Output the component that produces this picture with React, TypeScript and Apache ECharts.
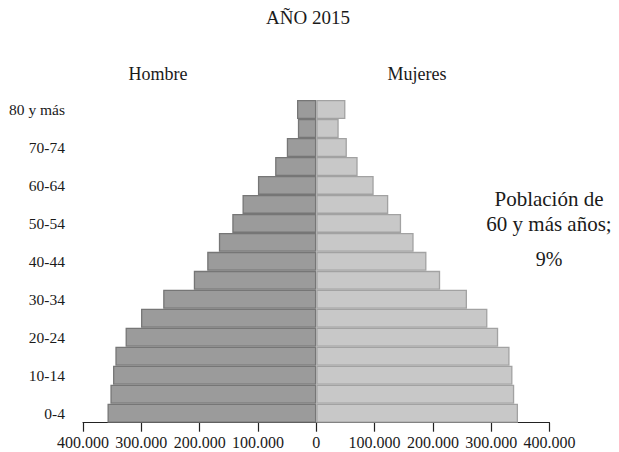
import React, { useEffect, useRef } from "react";
import * as echarts from "echarts";

const categories = [
  "0-4", "5-9", "10-14", "15-19", "20-24", "25-29", "30-34", "35-39", "40-44",
  "45-49", "50-54", "55-59", "60-64", "65-69", "70-74", "75-79", "80 y más",
];
const hombres = [
  358000, 353000, 348500, 344500, 327000, 300500, 262500, 210000, 187000,
  167000, 144000, 126500, 100000, 70500, 50500, 31500, 33000,
];
const mujeres = [
  346000, 339500, 336500, 331500, 312000, 293500, 258500, 212500, 189000,
  167000, 145500, 123500, 98500, 71000, 52500, 38500, 50000,
];
const xTicks = [-400000, -300000, -200000, -100000, 0, 100000, 200000, 300000, 400000];
const title = "AÑO 2015";
const leftLabel = "Hombre";
const rightLabel = "Mujeres";
const noteLines = ["Población de", "60 y más años;", "9%"];

const FONT = "'Liberation Serif', 'Times New Roman', serif";

function fmt(v: number): string {
  const s = String(Math.abs(Math.round(v)));
  return s.replace(/\B(?=(\d{3})+(?!\d))/g, ".");
}

export default function App() {
  const ref = useRef<HTMLDivElement>(null);
  useEffect(() => {
    if (!ref.current) return;
    const chart = echarts.init(ref.current, undefined, { renderer: "svg" });
    chart.setOption({
      animation: false,
      backgroundColor: "#ffffff",
      textStyle: { fontFamily: FONT },
      grid: { left: 83, right: 69.5, top: 100, bottom: 29.3, containLabel: false },
      xAxis: {
        type: "value",
        min: xTicks[0],
        max: xTicks[xTicks.length - 1],
        interval: 100000,
        axisLine: { show: true, lineStyle: { color: "#222", width: 1.2 } },
        axisTick: { show: true, length: 9, lineStyle: { color: "#222", width: 1.2 } },
        splitLine: { show: false },
        axisLabel: {
          margin: 12,
          color: "#1a1a1a",
          fontSize: 16,
          fontFamily: FONT,
          formatter: (v: number) => fmt(v),
        },
      },
      yAxis: {
        type: "category",
        data: categories,
        axisLine: { show: false },
        axisTick: { show: false },
        axisLabel: {
          interval: 1,
          margin: 18,
          color: "#1a1a1a",
          fontSize: 15.5,
          fontFamily: FONT,
        },
      },
      series: [
        {
          name: leftLabel,
          type: "bar",
          data: hombres.map((v) => -v),
          barCategoryGap: 0,
          barGap: "-100%",
          itemStyle: { color: "#9b9b9b", borderColor: "#767676", borderWidth: 1.3 },
        },
        {
          name: rightLabel,
          type: "bar",
          data: mujeres,
          barCategoryGap: 0,
          barGap: "-100%",
          itemStyle: { color: "#c8c8c8", borderColor: "#a2a2a2", borderWidth: 1.3 },
        },
      ],
      graphic: [
        {
          type: "text",
          x: 308,
          y: 17,
          style: {
            text: title,
            font: `19px ${FONT}`,
            fill: "#1a1a1a",
            textAlign: "center",
            textVerticalAlign: "middle",
          },
        },
        {
          type: "text",
          x: 158,
          y: 74,
          style: {
            text: leftLabel,
            font: `18px ${FONT}`,
            fill: "#1a1a1a",
            textAlign: "center",
            textVerticalAlign: "middle",
          },
        },
        {
          type: "text",
          x: 417,
          y: 74,
          style: {
            text: rightLabel,
            font: `18px ${FONT}`,
            fill: "#1a1a1a",
            textAlign: "center",
            textVerticalAlign: "middle",
          },
        },
        {
          type: "text",
          x: 549,
          y: 199,
          style: {
            text: noteLines[0],
            font: `21px ${FONT}`,
            fill: "#1a1a1a",
            textAlign: "center",
            textVerticalAlign: "middle",
          },
        },
        {
          type: "text",
          x: 549,
          y: 224,
          style: {
            text: noteLines[1],
            font: `21px ${FONT}`,
            fill: "#1a1a1a",
            textAlign: "center",
            textVerticalAlign: "middle",
          },
        },
        {
          type: "text",
          x: 549,
          y: 259,
          style: {
            text: noteLines[2],
            font: `20px ${FONT}`,
            fill: "#1a1a1a",
            textAlign: "center",
            textVerticalAlign: "middle",
          },
        },
      ],
    });
    return () => chart.dispose();
  }, []);
  return (
    <div
      ref={ref}
      style={{ position: "fixed", left: 0, top: 0, width: 619, height: 452 }}
    />
  );
}
